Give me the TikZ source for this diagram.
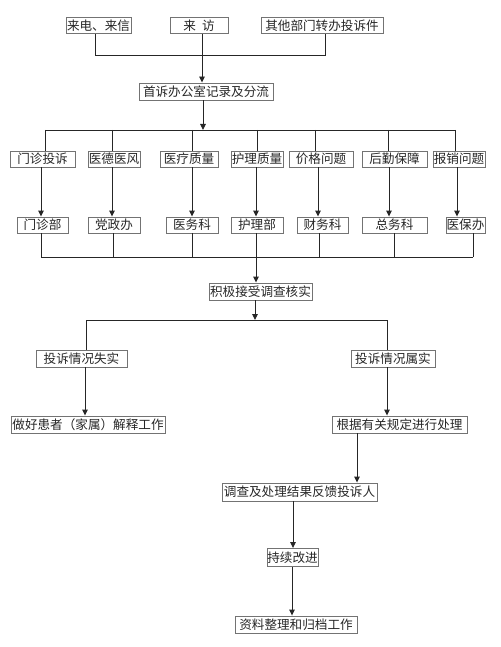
\documentclass[tikz,border=0pt]{standalone}
\usepackage{fontspec}
\newfontfamily\cjk{Noto Sans CJK SC}
\usetikzlibrary{arrows.meta}
\begin{document}
\begin{tikzpicture}[x=1pt,y=-1pt,
  bx/.style={draw=black!55,line width=0.9pt,inner sep=0pt,minimum height=16pt,
    font=\cjk\fontsize{12.6}{13}\selectfont,text=black!85},
  ln/.style={draw=black!85,line width=0.9pt},
  arr/.style={ln,-{Triangle[length=6pt,width=5.5pt]}}]
\useasboundingbox (0,0) rectangle (500,647);
% top sources
\node[bx,minimum width=65pt] (a1) at (98.5,25.5) {来电、来信};
\node[bx,minimum width=58pt] (a2) at (199,25.5) {来\hspace{6pt}访};
\node[bx,minimum width=122pt] (a3) at (322,25.5) {其他部门转办投诉件};
\node[bx,minimum width=134pt,minimum height=17pt] (b) at (206,91.5) {首诉办公室记录及分流};
\coordinate (j1) at (95,55);
\coordinate (j2) at (325,55);
\coordinate (xa) at (202,0);
\draw[ln] (a1.south -| j1) -- (j1) -- (j2) -- (a3.south -| j2);
\draw[arr] (a2.south -| xa) -- (b.north -| xa);
% categories
\node[bx,minimum width=65pt] (c1) at (42.5,159) {门诊投诉};
\node[bx,minimum width=52pt] (c2) at (114,159) {医德医风};
\node[bx,minimum width=58pt] (c3) at (189,159) {医疗质量};
\node[bx,minimum width=52pt] (c4) at (257,159) {护理质量};
\node[bx,minimum width=64pt] (c5) at (321,159) {价格问题};
\node[bx,minimum width=65pt] (c6) at (394.5,159) {后勤保障};
\node[bx,minimum width=52pt] (c7) at (459,159) {报销问题};
% departments
\node[bx,minimum width=51pt] (d1) at (42.5,225) {门诊部};
\node[bx,minimum width=52pt] (d2) at (114,225) {党政办};
\node[bx,minimum width=52pt] (d3) at (192,225) {医务科};
\node[bx,minimum width=52pt] (d4) at (257,225) {护理部};
\node[bx,minimum width=51pt] (d5) at (322.5,225) {财务科};
\node[bx,minimum width=65pt] (d6) at (394.5,225) {总务科};
\node[bx,minimum width=39pt] (d7) at (465.5,225) {医保办};
% bus 1
\coordinate (xb) at (203,130);
\coordinate (u1) at (45,130);
\coordinate (u2) at (112,130);
\coordinate (u3) at (192,130);
\coordinate (u4) at (257,130);
\coordinate (u5) at (315,130);
\coordinate (u6) at (388,130);
\coordinate (u7) at (455,130);
\draw[arr] (b.south -| xb) -- (xb);
\draw[ln] (u1) -- (u7);
\foreach \i in {1,...,7}{\draw[ln] (u\i) -- (u\i |- c\i.north);}
% category -> department arrows
\coordinate (v1) at (41,0);
\coordinate (v2) at (112,0);
\coordinate (v3) at (192,0);
\coordinate (v4) at (256,0);
\coordinate (v5) at (318,0);
\coordinate (v6) at (389,0);
\coordinate (v7) at (457,0);
\foreach \i in {1,...,7}{\draw[arr] (c\i.south -| v\i) -- (d\i.north -| v\i);}
% bus 2
\node[bx,minimum width=103pt,minimum height=17pt] (e) at (260.5,291.5) {积极接受调查核实};
\coordinate (w1) at (41,257);
\coordinate (w2) at (113,257);
\coordinate (w3) at (192,257);
\coordinate (w4) at (256,257);
\coordinate (w5) at (319,257);
\coordinate (w6) at (394,257);
\coordinate (w7) at (473,257);
\draw[ln] (w1) -- (w7);
\foreach \i in {1,2,3,5,6,7}{\draw[ln] (d\i.south -| w\i) -- (w\i);}
\draw[arr] (d4.south -| w4) -- (e.north -| w4);
% bus 3
\node[bx,minimum width=91pt,minimum height=17pt] (f1) at (81.5,358.5) {投诉情况失实};
\node[bx,minimum width=84pt,minimum height=17pt] (f2) at (393,358.5) {投诉情况属实};
\coordinate (k0) at (255,320);
\coordinate (k1) at (86,320);
\coordinate (k2) at (387,320);
\draw[arr] (e.south -| k0) -- (k0);
\draw[ln] (f1.north -| k1) -- (k1) -- (k2) -- (f2.north -| k2);
% results
\node[bx,minimum width=154pt,minimum height=17pt] (g1) at (88,424.5) {做好患者（家属）解释工作};
\node[bx,minimum width=135pt,minimum height=17pt] (g2) at (399.5,424.5) {根据有关规定进行处理};
\coordinate (m1) at (85,0);
\coordinate (m2) at (387,0);
\draw[arr] (f1.south -| m1) -- (g1.north -| m1);
\draw[arr] (f2.south -| m2) -- (g2.north -| m2);
% final chain
\node[bx,minimum width=155pt,minimum height=18pt] (h) at (299.5,492) {调查及处理结果反馈投诉人};
\node[bx,minimum width=51pt,minimum height=18pt] (i) at (292.5,557.5) {持续改进};
\node[bx,minimum width=122pt,minimum height=17pt] (j) at (296,624.5) {资料整理和归档工作};
\coordinate (n1) at (357,0);
\coordinate (n2) at (293,0);
\coordinate (n3) at (292,0);
\draw[arr] (g2.south -| n1) -- (h.north -| n1);
\draw[arr] (h.south -| n2) -- (i.north -| n2);
\draw[arr] (i.south -| n3) -- (j.north -| n3);
\end{tikzpicture}
\end{document}
